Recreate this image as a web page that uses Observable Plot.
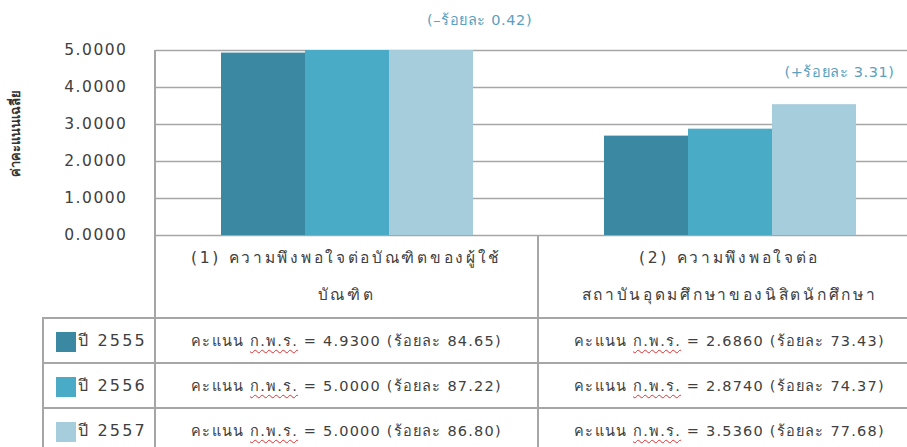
<!DOCTYPE html>
<html><head><meta charset="utf-8">
<script src="https://cdn.jsdelivr.net/npm/d3@7"></script>
<script src="https://cdn.jsdelivr.net/npm/@observablehq/plot@0.6"></script>
<style>
body{margin:0;background:#fff;overflow:hidden;font-family:"DejaVu Sans","Noto Sans",sans-serif;}
#wrap{position:relative;width:907px;height:447px;overflow:hidden;}
#wrap svg{display:block;}
.tbl{position:absolute;left:0;top:236px;width:907px;height:211px;}
.cell{position:absolute;display:flex;align-items:center;justify-content:center;text-align:center;color:#404040;font-size:14.5px;white-space:nowrap;letter-spacing:1.2px;}
.hdr{flex-direction:column;line-height:37px;font-size:15.5px;letter-spacing:2.7px;}
.line{position:absolute;background:#a6a6a6;}
.sq{display:inline-block;width:20px;height:20px;margin-right:2px;vertical-align:middle;}
.leg{justify-content:flex-start;padding-left:13px;box-sizing:border-box;font-size:16px;letter-spacing:2.2px;}
.wavy{text-decoration:underline wavy #e03030;text-decoration-thickness:1px;text-underline-offset:3px;}
.ytitle{position:absolute;left:15px;top:133px;transform:translate(-50%,-50%) rotate(-90deg);font-size:13px;font-weight:bold;color:#333;white-space:nowrap;}
</style></head>
<body><div id="wrap"></div>
<script>
const categories = ["(1) ความพึงพอใจต่อบัณฑิตของผู้ใช้บัณฑิต", "(2) ความพึงพอใจต่อสถาบันอุดมศึกษาของนิสิตนักศึกษา"];
const categoryLines = [["(1) ความพึงพอใจต่อบัณฑิตของผู้ใช้", "บัณฑิต"], ["(2) ความพึงพอใจต่อ", "สถาบันอุดมศึกษาของนิสิตนักศึกษา"]];
const years = ["2555", "2556", "2557"];
const yearLabels = ["ปี 2555", "ปี 2556", "ปี 2557"];
const scores1 = [4.93, 5.0, 5.0];
const scores2 = [2.686, 2.874, 3.536];
const percent1 = [84.65, 87.22, 86.80];
const percent2 = [73.43, 74.37, 77.68];
const changeLabels = ["(–ร้อยละ 0.42)", "(+ร้อยละ 3.31)"];
const yTicks = [0, 1, 2, 3, 4, 5];
const yTitle = "ค่าคะแนนเฉลี่ย";
const colors = ["#3a88a1", "#4aabc6", "#a6cddc"];

const scores = [scores1, scores2];
const percents = [percent1, percent2];
const data = [];
categories.forEach((c, i) => years.forEach((y, j) => data.push({cat: c, year: y, score: scores[i][j], pct: percents[i][j]})));
const notes = categories.map((c, i) => ({cat: c, year: years[2], score: scores[i][2], label: changeLabels[i]}));

const font = "DejaVu Sans, Noto Sans, sans-serif";
const chart = Plot.plot({
  width: 907, height: 236,
  marginTop: 50, marginBottom: 1, marginLeft: 155, marginRight: -14,
  style: {fontFamily: font, fontSize: "15.5px", color: "#404040", background: "white", overflow: "visible", letterSpacing: "1.5px"},
  fx: {domain: categories, padding: 0, axis: null},
  x: {domain: years, paddingInner: 0, paddingOuter: 0.76, axis: null},
  y: {domain: [0, 5], ticks: yTicks, tickFormat: d3.format(".4f"), tickSize: 0, tickPadding: 28, label: null},
  color: {domain: years, range: colors},
  marks: [
    Plot.ruleY(yTicks, {stroke: "#a6a6a6", strokeWidth: 1.5}),
    Plot.barY(data, {fx: "cat", x: "year", y: "score", fill: "year"}),
    Plot.text(notes.slice(0, 1), {fx: "cat", x: "year", y: "score", text: "label", dx: 48, dy: -30, fill: "#5aa0c0", fontSize: 14.5, style: "letter-spacing:0.6px"}),
    Plot.text(notes.slice(1), {fx: "cat", x: "year", y: "score", text: "label", dx: 25, dy: -32, fill: "#5aa0c0", fontSize: 14.5, style: "letter-spacing:0.6px"})
  ]
});
const wrap = document.getElementById("wrap");
wrap.appendChild(chart);
// tighter spacing for the change annotations
d3.select(chart).selectAll("g[aria-label='text'] text").style("letter-spacing", "0.6px");

const yt = document.createElement("div");
yt.className = "ytitle";
yt.textContent = yTitle;
wrap.appendChild(yt);

// data table below the chart
const fxs = chart.scale("fx");
const band = fxs.bandwidth;
const left0 = fxs.apply(categories[0]);
const tbl = document.createElement("div");
tbl.className = "tbl";
wrap.appendChild(tbl);
const hdrH = 82, rowH = 45;
function el(cls, css, html) {
  const d = document.createElement("div");
  d.className = cls;
  Object.assign(d.style, css);
  if (html != null) d.innerHTML = html;
  tbl.appendChild(d);
  return d;
}
const legL = 43;
categories.forEach((c, i) => {
  el("cell hdr", {left: fxs.apply(c) + "px", width: band + "px", top: "0px", height: hdrH + "px"},
     categoryLines[i].map(s => `<div>${s}</div>`).join(""));
});
years.forEach((y, j) => {
  const t = hdrH + j * rowH;
  el("cell leg", {left: legL + "px", width: (left0 - legL) + "px", top: t + "px", height: rowH + "px"},
     `<span><span class="sq" style="background:${colors[j]}"></span>${yearLabels[j]}</span>`);
  categories.forEach((c, i) => {
    el("cell", {left: fxs.apply(c) + "px", width: band + "px", top: t + "px", height: rowH + "px"},
       `<span>คะแนน <span class="wavy">ก.พ.ร.</span> = ${d3.format(".4f")(scores[i][j])} (ร้อยละ ${d3.format(".2f")(percents[i][j])})</span>`);
  });
});
[0, 1, 2].forEach(j => el("line", {left: legL + "px", width: (907 - legL) + "px", top: (hdrH + j * rowH - 1) + "px", height: "1.5px"}));
el("line", {left: (left0 - 1) + "px", width: "1.5px", top: "-186px", height: "400px"});
el("line", {left: (fxs.apply(categories[1]) - 1) + "px", width: "1.5px", top: "0px", height: "220px"});
el("line", {left: (legL - 1) + "px", width: "1.5px", top: (hdrH - 1) + "px", height: "200px"});
</script>
</body></html>
